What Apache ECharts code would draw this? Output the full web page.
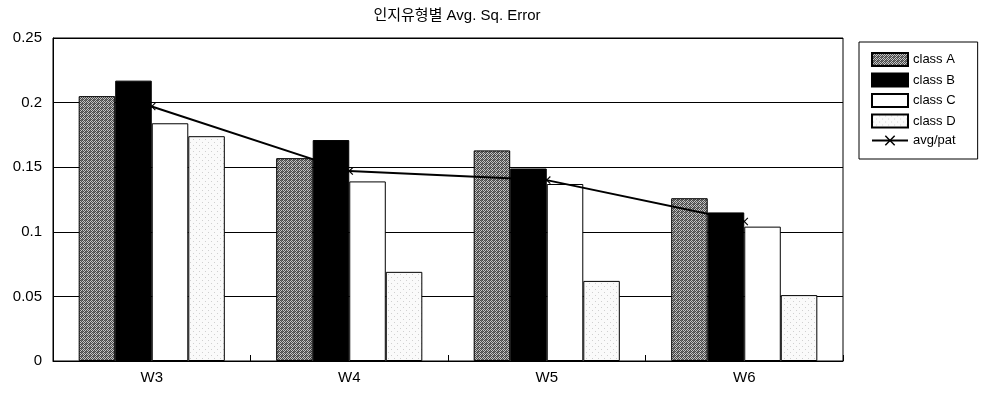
<!DOCTYPE html>
<html>
<head>
<meta charset="utf-8">
<script src="https://cdn.jsdelivr.net/npm/echarts@6/dist/echarts.min.js"></script>
<style>
  html, body { margin: 0; padding: 0; background: #fff; }
  #chart { width: 982px; height: 395px; }
</style>
</head>
<body>
<div id="chart"></div>
<script>
// Average squared error per week, grouped by cognitive type
const categories = ['W3', 'W4', 'W5', 'W6'];
const classA = [0.205, 0.157, 0.163, 0.126];
const classB = [0.217, 0.171, 0.149, 0.115];
const classC = [0.184, 0.139, 0.137, 0.104];
const classD = [0.174, 0.069, 0.062, 0.051];
const avgPat = [0.197, 0.147, 0.140, 0.108];
const yTicks = { min: 0, max: 0.25, interval: 0.05 };

// Small tiled canvases giving the halftone-style fills
function makePattern(size, painter) {
  const c = document.createElement('canvas');
  c.width = size; c.height = size;
  const ctx = c.getContext('2d');
  painter(ctx);
  return { image: c, repeat: 'repeat' };
}
const ditherGray = makePattern(4, ctx => {
  ctx.fillStyle = '#c4c4c4'; ctx.fillRect(0, 0, 4, 4);
  ctx.fillStyle = '#4a4a4a';
  ctx.fillRect(0, 0, 1, 1); ctx.fillRect(2, 0, 1, 1);
  ctx.fillRect(1, 1, 1, 1); ctx.fillRect(3, 1, 1, 1);
  ctx.fillRect(0, 2, 1, 1); ctx.fillRect(2, 2, 1, 1);
  ctx.fillRect(1, 3, 1, 1); ctx.fillRect(3, 3, 1, 1);
  ctx.fillStyle = '#707070'; ctx.fillRect(1, 0, 1, 1); ctx.fillRect(2, 3, 1, 1);
});
const lightDots = makePattern(6, ctx => {
  ctx.fillStyle = '#fafafa'; ctx.fillRect(0, 0, 6, 6);
  ctx.fillStyle = '#d0d0d0';
  ctx.fillRect(1, 1, 1, 1); ctx.fillRect(4, 4, 1, 1);
});

const crossMark = 'path://M0,1L1,0L5,4L9,0L10,1L6,5L10,9L9,10L5,6L1,10L0,9L4,5Z';
const fontFam = '"Liberation Sans", Arial, "Noto Sans CJK KR", sans-serif';

function barSeries(name, data, fill) {
  return {
    name, type: 'bar', data,
    barGap: '0%', barCategoryGap: '26%',
    itemStyle: { color: fill, borderColor: '#000', borderWidth: 1 },
    emphasis: { disabled: true }
  };
}

const chart = echarts.init(document.getElementById('chart'), null, { renderer: 'canvas' });
chart.setOption({
  animation: false,
  backgroundColor: '#fff',
  textStyle: { fontFamily: fontFam, color: '#000' },
  title: {
    text: '인지유형별 Avg. Sq. Error',
    left: 452, top: 3, textAlign: 'center',
    textStyle: { fontSize: 15, fontWeight: 'normal', color: '#000',
                 fontFamily: '"Liberation Sans", "Noto Sans CJK KR", sans-serif' }
  },
  legend: {
    orient: 'vertical',
    left: 859, top: 42,
    padding: [10, 22, 12, 12],
    itemWidth: 36, itemHeight: 13, itemGap: 5.5,
    borderColor: '#000', borderWidth: 1,
    textStyle: { fontSize: 13, color: '#000', fontFamily: fontFam },
    data: [
      { name: 'class A', icon: 'rect' },
      { name: 'class B', icon: 'rect' },
      { name: 'class C', icon: 'rect' },
      { name: 'class D', icon: 'rect' },
      { name: 'avg/pat' }
    ]
  },
  grid: {
    left: 53, right: 139, top: 38, bottom: 34,
    show: true, borderColor: '#000', borderWidth: 1, backgroundColor: 'transparent'
  },
  xAxis: {
    type: 'category', data: categories,
    axisLine: { lineStyle: { color: '#000', width: 1 } },
    axisTick: { show: true, inside: true, length: 6, lineStyle: { color: '#000' } },
    axisLabel: { fontSize: 15, color: '#000', margin: 9, fontFamily: fontFam }
  },
  yAxis: {
    type: 'value', min: yTicks.min, max: yTicks.max, interval: yTicks.interval,
    axisLine: { show: true, lineStyle: { color: '#000' } },
    axisTick: { show: false },
    splitLine: { show: true, lineStyle: { color: '#000', width: 1 } },
    axisLabel: { fontSize: 15, color: '#000', margin: 11, fontFamily: fontFam }
  },
  series: [
    barSeries('class A', classA, ditherGray),
    barSeries('class B', classB, '#000'),
    barSeries('class C', classC, '#fff'),
    barSeries('class D', classD, lightDots),
    {
      name: 'avg/pat', type: 'line', data: avgPat, z: 5,
      symbol: crossMark, symbolSize: 8,
      lineStyle: { color: '#000', width: 2 },
      itemStyle: { color: '#000' },
      emphasis: { disabled: true }
    }
  ]
});
</script>
</body>
</html>
